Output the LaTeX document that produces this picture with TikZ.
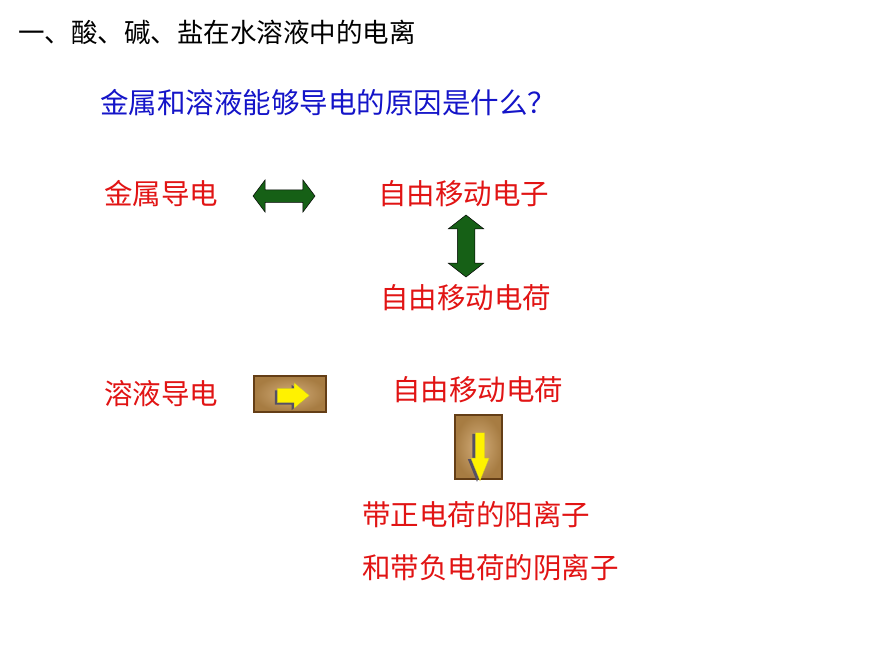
\documentclass[tikz,border=0pt]{standalone}
\usepackage{fontspec}
\setmainfont{Noto Sans CJK SC}
\usepackage{tikz}
\usetikzlibrary{shapes.arrows, positioning, calc}

\definecolor{redtxt}{RGB}{225,20,20}
\definecolor{bluetxt}{RGB}{20,20,200}
\definecolor{darkgrn}{RGB}{22,96,22}
\definecolor{goldbtn}{RGB}{196,146,78}
\definecolor{goldedge}{RGB}{100,62,22}
\definecolor{shade}{RGB}{85,80,100}

\tikzset{
  title/.style={anchor=west,inner sep=0pt,font=\fontsize{26.5}{30}\selectfont},
  ask/.style={anchor=west,inner sep=0pt,text=bluetxt,font=\fontsize{28.5}{32}\selectfont},
  word/.style={anchor=west,inner sep=0pt,text=redtxt,font=\fontsize{28.5}{32}\selectfont},
  grnarrow/.style={double arrow,fill=darkgrn,draw=black,line width=0.5pt},
  button/.style={draw=goldedge,line width=1.5pt,inner color=goldbtn!75!white,outer color=goldbtn!85!black},
  ylwarrow/.style={single arrow,fill=yellow,draw=yellow!75!black,line width=0.3pt},
  ylwshadow/.style={single arrow,fill=shade}
}

\begin{document}
\begin{tikzpicture}[x=1pt,y=-1pt]
\useasboundingbox (0,0) rectangle (870,653);

\node[title] (head) at (18,32) {一、酸、碱、盐在水溶液中的电离};
\node[ask] (question) at (100,103) {金属和溶液能够导电的原因是什么？};

% metal
\node[word] (metal) at (104,194) {金属导电};
\node[grnarrow,inner sep=6pt,minimum height=62pt,double arrow head extend=10pt,
      double arrow tip angle=106] (hlink) at (284,196) {};
\node[word] (electron) at (378,194) {自由移动电子};
\node[grnarrow,inner sep=8.5pt,minimum height=62pt,double arrow head extend=9pt,
      double arrow tip angle=104,shape border rotate=90] (vlink) at (466,246) {};
\node[word] (charge1) at (380,298) {自由移动电荷};

% solution
\node[word] (solution) at (104,394) {溶液导电};
\draw[button] (254,376) rectangle (326,412);
\node[ylwshadow,inner sep=7pt,minimum height=32pt,single arrow head extend=5.5pt,
      single arrow tip angle=80] (rshadow) at (286.5,397.5) {};
\node[ylwarrow,inner sep=7pt,minimum height=32pt,single arrow head extend=5.5pt,
      single arrow tip angle=80] (rarrow) at (289,395.5) {};
\node[word] (charge2) at (392,390) {自由移动电荷};
\draw[button] (455,415) rectangle (502,479);
\node[ylwshadow,inner sep=4.5pt,minimum height=48pt,single arrow head extend=4.5pt,
      single arrow tip angle=44,shape border rotate=270] (dshadow) at (477,452) {};
\node[ylwarrow,inner sep=4.5pt,minimum height=48pt,single arrow head extend=4.5pt,
      single arrow tip angle=44,shape border rotate=270] (darrow) at (480,451) {};
\node[word] (cation) at (362,515) {带正电荷的阳离子};
\node[word] (anion) at (362,568) {和带负电荷的阴离子};

\end{tikzpicture}
\end{document}
